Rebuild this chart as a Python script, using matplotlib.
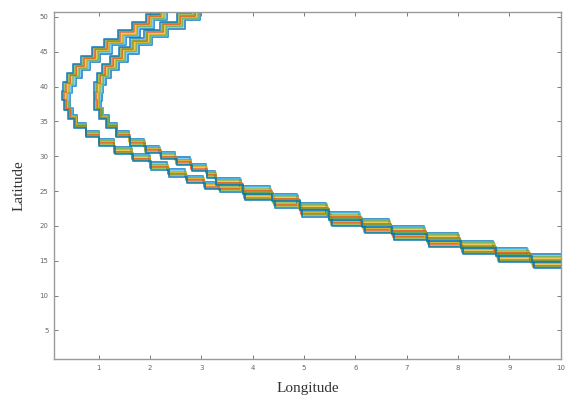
"""Staircase track bands, latitude vs longitude"""

import matplotlib
matplotlib.use("Agg")
import numpy as np
import matplotlib.pyplot as plt

# outer band centre line (longitude, latitude), top to lower right
outer_lon = [2.50, 2.25, 2.00, 1.72, 1.45, 1.18, 0.95, 0.75, 0.58, 0.47, 0.40,
             0.36, 0.38, 0.45, 0.55, 0.75, 1.00, 1.30, 1.65, 2.00, 2.35, 2.70,
             3.05, 3.33, 3.83, 4.41, 4.94, 5.51, 6.15, 6.73, 7.41, 8.07, 8.76,
             9.44, 10.20]
outer_lat = [51.2, 50.0, 48.8, 47.6, 46.4, 45.2, 44.0, 42.8, 41.6, 40.4, 39.2,
             38.0, 36.8, 35.6, 34.4, 33.2, 32.0, 30.8, 29.8, 28.6, 27.6, 26.7,
             25.8, 25.45, 24.25, 23.15, 21.85, 20.55, 19.55, 18.55, 17.55,
             16.45, 15.35, 14.45, 14.45]

# inner band centre line
inner_lon = [3.15, 2.90, 2.60, 2.28, 1.97, 1.70, 1.48, 1.30, 1.15, 1.05, 1.00,
             0.98, 0.98, 1.05, 1.17, 1.35, 1.60, 1.90, 2.20, 2.50, 2.80, 3.10,
             3.28, 3.78, 4.36, 4.89, 5.46, 6.10, 6.68, 7.36, 8.02, 8.71, 9.39,
             10.20]
inner_lat = [51.2, 50.0, 48.8, 47.6, 46.4, 45.2, 44.0, 42.8, 41.6, 40.4, 39.2,
             38.0, 36.8, 35.6, 34.4, 33.2, 32.0, 31.0, 30.1, 29.3, 28.4, 27.4,
             26.35, 25.15, 24.05, 22.75, 21.45, 20.45, 19.45, 18.45, 17.35,
             16.25, 15.35, 15.35]

# members inside each band: position across the band and colour
member_pos = [3, 2, 1, 0, -1, -2, -3]
member_colors = ["#0072BD", "#4DBEEE", "#77AC30", "#EDB120", "#D95319",
                 "#77AC30", "#0072BD"]

x_ticks = [1, 2, 3, 4, 5, 6, 7, 8, 9, 10]
y_ticks = [5, 10, 15, 20, 25, 30, 35, 40, 45, 50]

PX_LON, PX_LAT = 51.4, 6.96   # screen pixels per data unit
GAP = 1.3                      # pixels between neighbouring members
SLANT = 0.8                    # sideways pixels per member on flat parts


def stairs(xs, ys):
    """horizontal move then vertical move between consecutive nodes"""
    sx, sy = [xs[0]], [ys[0]]
    for x1, y1 in zip(xs[1:], ys[1:]):
        sx += [x1, x1]
        sy += [sy[-1], y1]
    return sx, sy


def normals(lon, lat):
    """unit normal (in screen pixels) of the track at each node"""
    tx = np.gradient(np.asarray(lon)) * PX_LON
    ty = np.gradient(np.asarray(lat)) * PX_LAT
    n = np.hypot(tx, ty)
    return -ty / n, tx / n


fig = plt.figure(figsize=(5.65, 3.98), dpi=100)
ax = fig.add_axes([0.0956, 0.098, 0.897, 0.872])

for lon, lat in [(outer_lon, outer_lat), (inner_lon, inner_lat)]:
    nx, ny = normals(lon, lat)
    for k, c in zip(member_pos, member_colors):
        mx = np.asarray(lon) + k * (GAP * nx - SLANT * ny) / PX_LON
        my = np.asarray(lat) + k * GAP * ny / PX_LAT
        sx, sy = stairs(list(mx), list(my))
        ax.plot(sx, sy, color=c, lw=1.3, alpha=0.8)

ax.set_xlim(0.13, 10)
ax.set_ylim(0.9, 50.7)
ax.set_xticks(x_ticks)
ax.set_yticks(y_ticks)
ax.tick_params(direction="in", length=3, width=0.6, labelsize=5,
               colors="#666666", top=True, right=True, pad=4)
for s in ax.spines.values():
    s.set_color("#9a9a9a")
    s.set_linewidth(1.0)

ax.set_xlabel("Longitude", family="Liberation Serif", fontsize=11,
              color="#333333", labelpad=8)
ax.set_ylabel("Latitude", family="Liberation Serif", fontsize=11,
              color="#333333", labelpad=10)

fig.savefig("out.png", dpi=100)
